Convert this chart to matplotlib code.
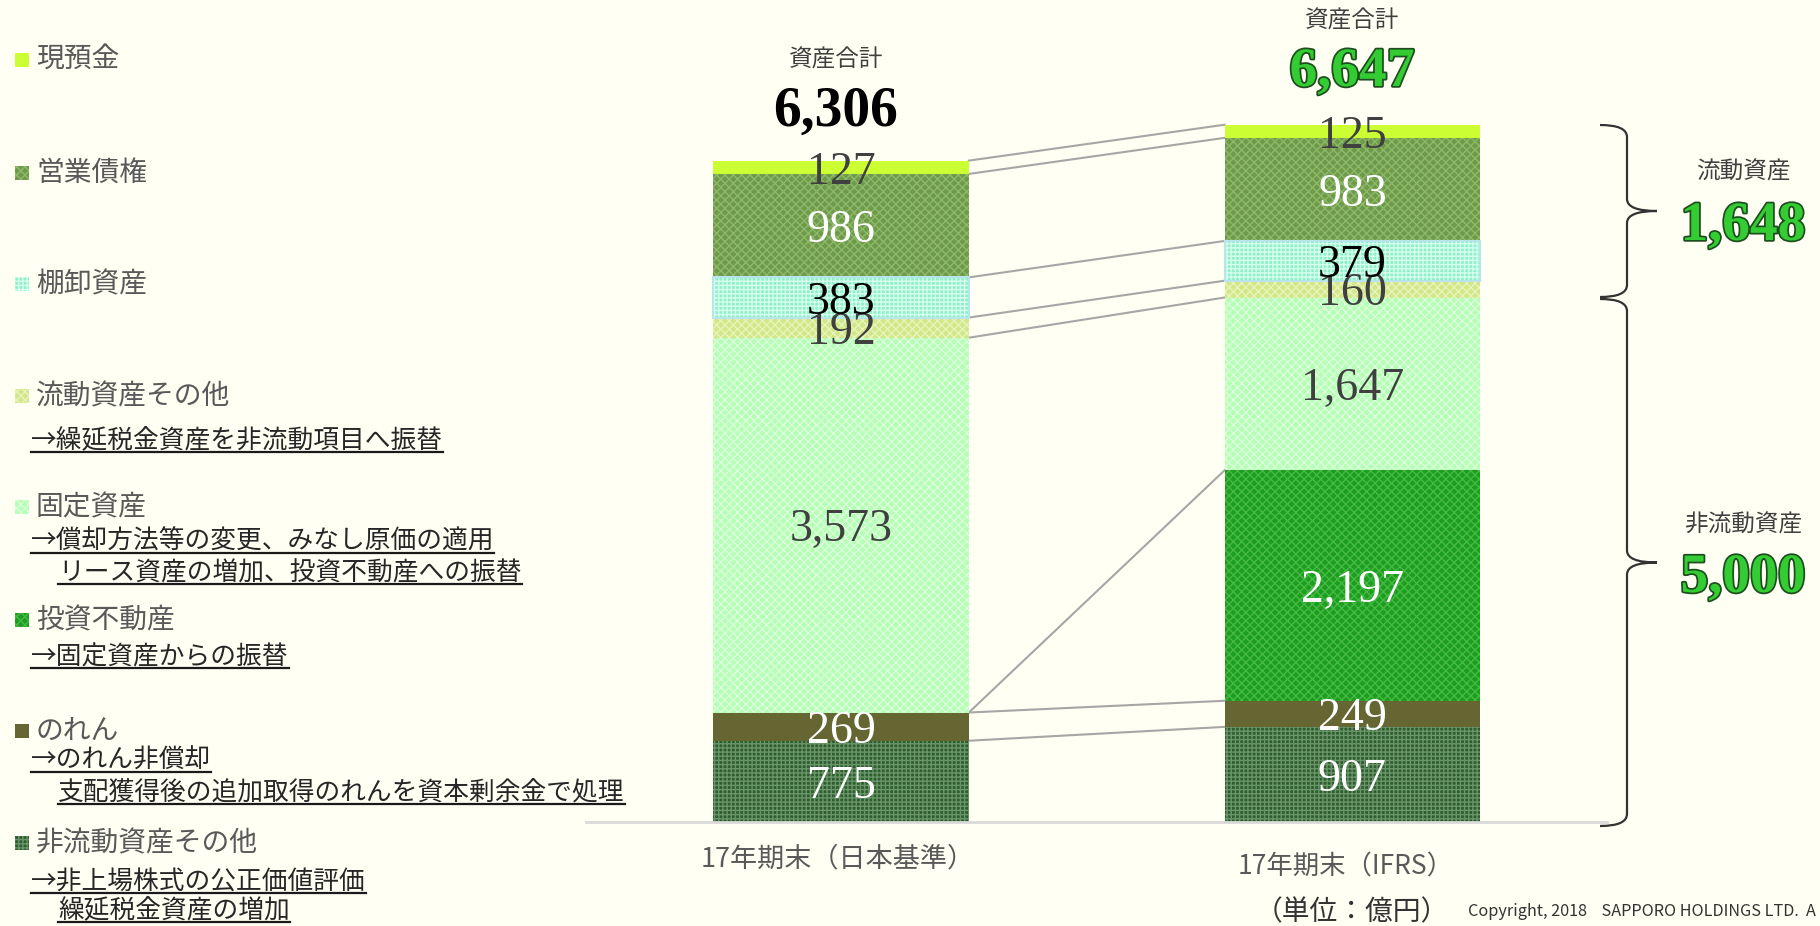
import matplotlib
matplotlib.use('Agg')
import matplotlib.pyplot as plt
import matplotlib.patheffects as pe
from matplotlib.patches import Rectangle, PathPatch
from matplotlib.path import Path
from matplotlib.transforms import Affine2D
from matplotlib.lines import Line2D

# data (億円), bottom -> top of the stack
categories = ['非流動資産その他', 'のれん', '投資不動産', '固定資産',
              '流動資産その他', '棚卸資産', '営業債権', '現預金']
jgaap = [775, 269, 0, 3573, 192, 383, 986, 127]
ifrs = [907, 249, 2197, 1647, 160, 379, 983, 125]
totals = ['6,306', '6,647']
current_total = '1,648'
noncurrent_total = '5,000'
period_labels = ['17年期末（日本基準）', '17年期末（IFRS）']

notes = {
    '流動資産その他': ['→繰延税金資産を非流動項目へ振替'],
    '固定資産': ['→償却方法等の変更、みなし原価の適用', 'リース資産の増加、投資不動産への振替'],
    '投資不動産': ['→固定資産からの振替'],
    'のれん': ['→のれん非償却', '支配獲得後の追加取得のれんを資本剰余金で処理'],
    '非流動資産その他': ['→非上場株式の公正価値評価', '繰延税金資産の増加'],
}

# fill, hatch colour, hatch
styles = {
    '現預金': ('#CCFF33', None, None),
    '営業債権': ('#6E9A4A', '#8DBA6A', 'xxxx'),
    '棚卸資産': ('#8FF0C8', '#D5FFEE', '++++'),
    '流動資産その他': ('#D2E68A', '#E8F4B8', 'xxxx'),
    '固定資産': ('#B5FFB5', '#DAFFDA', 'xxxx'),
    '投資不動産': ('#1E9E1E', '#45BA45', 'xxxx'),
    'のれん': ('#666633', None, None),
    '非流動資産その他': ('#2E5E2E', '#6A946A', '++++'),
}
label_colors = ['white', 'white', 'white', '#404040', '#404040', 'black', 'white', '#404040']

plt.rcParams['font.family'] = ['Noto Sans CJK JP', 'DejaVu Sans']
plt.rcParams['hatch.linewidth'] = 1.0

W, H = 1820, 926
BG = '#FFFFF3'
fig = plt.figure(figsize=(W / 100, H / 100), dpi=100, facecolor=BG)
ax = fig.add_axes([0, 0, 1, 1])
ax.set_facecolor(BG)
ax.axis('off')
ax.set_xlim(-1.644, 1.914)
ax.set_ylim(-991, 7836)

# pixel coords, origin top-left
px = Affine2D().scale(1 / W, -1 / H).translate(0, 1) + fig.transFigure

xpos = [0, 1]
bw = 0.5
series = [jgaap, ifrs]
tops = []
for xi, vals in zip(xpos, series):
    bottom = 0
    t = []
    for cat, v, lc in zip(categories, vals, label_colors):
        fc, hc, hatch = styles[cat]
        if v > 0:
            ax.bar(xi, v, bottom=bottom, width=bw, color=fc,
                   edgecolor=hc if hc else fc, linewidth=0, hatch=hatch, zorder=2)
            if cat == '棚卸資産':
                ax.bar(xi, v, bottom=bottom, width=bw, fill=False,
                       edgecolor='#B8E4EC', linewidth=1.5, zorder=3)
            ax.text(xi, bottom + v / 2, f'{v:,}', ha='center', va='center_baseline',
                    fontsize=33, family='Liberation Serif', color=lc, zorder=5)
        bottom += v
        t.append(bottom)
    tops.append(t)

# connectors between segment tops
for lt, rt in zip(tops[0], tops[1]):
    ax.plot([xpos[0] + bw / 2, xpos[1] - bw / 2], [lt, rt], color='#A6A6A6', lw=1.5, zorder=1)

# baseline
fig.add_artist(Line2D([586, 1607], [822, 822], transform=px, color='#D9D9D9', lw=2))

# totals
fig.text(836, 60, '資産合計', transform=px, ha='center', va='center', fontsize=17, color='#404040')
fig.text(836, 112, totals[0], transform=px, ha='center', va='center', fontsize=40,
         family='Liberation Serif', weight='bold', color='black')
fig.text(1352, 21, '資産合計', transform=px, ha='center', va='center', fontsize=17, color='#404040')
green_fx = [pe.Stroke(linewidth=2.5, foreground='#1E4D1E'), pe.Normal()]
fig.text(1352, 72, totals[1], transform=px, ha='center', va='center', fontsize=40,
         family='Liberation Serif', weight='bold', color='#33CC33', path_effects=green_fx)

# braces
def brace(y0, y1, x0=1600, xv=1627, xt=1657, r=12):
    ym = (y0 + y1) / 2
    verts = [(x0, y0), (xv, y0), (xv, y0 + r),
             (xv, ym - r), (xv, ym), (xt, ym),
             (xv, ym), (xv, ym + r),
             (xv, y1 - r), (xv, y1), (x0, y1)]
    codes = [Path.MOVETO, Path.CURVE3, Path.CURVE3,
             Path.LINETO, Path.CURVE3, Path.CURVE3,
             Path.CURVE3, Path.CURVE3,
             Path.LINETO, Path.CURVE3, Path.CURVE3]
    fig.add_artist(PathPatch(Path(verts, codes), transform=px, fill=False,
                             edgecolor='#333333', lw=1.6))

brace(125, 297)
brace(299, 826)
fig.text(1743, 172, '流動資産', transform=px, ha='center', va='center', fontsize=17, color='#404040')
fig.text(1743, 226, current_total, transform=px, ha='center', va='center', fontsize=40,
         family='Liberation Serif', weight='bold', color='#33CC33', path_effects=green_fx)
fig.text(1743, 525, '非流動資産', transform=px, ha='center', va='center', fontsize=17, color='#404040')
fig.text(1743, 578, noncurrent_total, transform=px, ha='center', va='center', fontsize=40,
         family='Liberation Serif', weight='bold', color='#33CC33', path_effects=green_fx)

# category labels
fig.text(838, 859, period_labels[0], transform=px, ha='center', va='center', fontsize=19.5, color='#595959')
fig.text(1346, 867, period_labels[1], transform=px, ha='center', va='center', fontsize=19, color='#595959')
fig.text(1352, 912, '（単位：億円）', transform=px, ha='center', va='center', fontsize=20, color='#333333')
fig.text(1468, 912, 'Copyright, 2018    SAPPORO HOLDINGS LTD.  A', transform=px, ha='left',
         va='center', fontsize=11.7, color='#333333')

# legend on the left, top -> bottom
legend_y = {'現預金': 60, '営業債権': 173, '棚卸資産': 284, '流動資産その他': 396,
            '固定資産': 507, '投資不動産': 620, 'のれん': 731, '非流動資産その他': 843}
note_y = {'流動資産その他': [441], '固定資産': [542, 573], '投資不動産': [657],
          'のれん': [761, 793], '非流動資産その他': [882, 911]}
note_texts = []
for cat in categories[::-1]:
    fc, hc, hatch = styles[cat]
    y = legend_y[cat]
    fig.add_artist(Rectangle((15, y - 7), 14, 14, transform=px, facecolor=fc,
                             edgecolor=hc if hc else fc, linewidth=0, hatch=hatch))
    fig.text(36, y, cat, transform=px, ha='left', va='center', fontsize=20, color='#595959')
    for i, (line, ny) in enumerate(zip(notes.get(cat, []), note_y.get(cat, []))):
        xx = 31 if i == 0 else 58
        note_texts.append(fig.text(xx, ny, line, transform=px, ha='left', va='center',
                                   fontsize=18.5, color='#262626'))

fig.canvas.draw()
r = fig.canvas.get_renderer()
for t in note_texts:
    bb = t.get_window_extent(r)
    yy = bb.y0 + 2
    fig.add_artist(Line2D([bb.x0 / W, bb.x1 / W], [yy / H, yy / H],
                          transform=fig.transFigure, color='#1A1A1A', lw=1.6))

fig.savefig('out.png', dpi=100, facecolor=BG)
